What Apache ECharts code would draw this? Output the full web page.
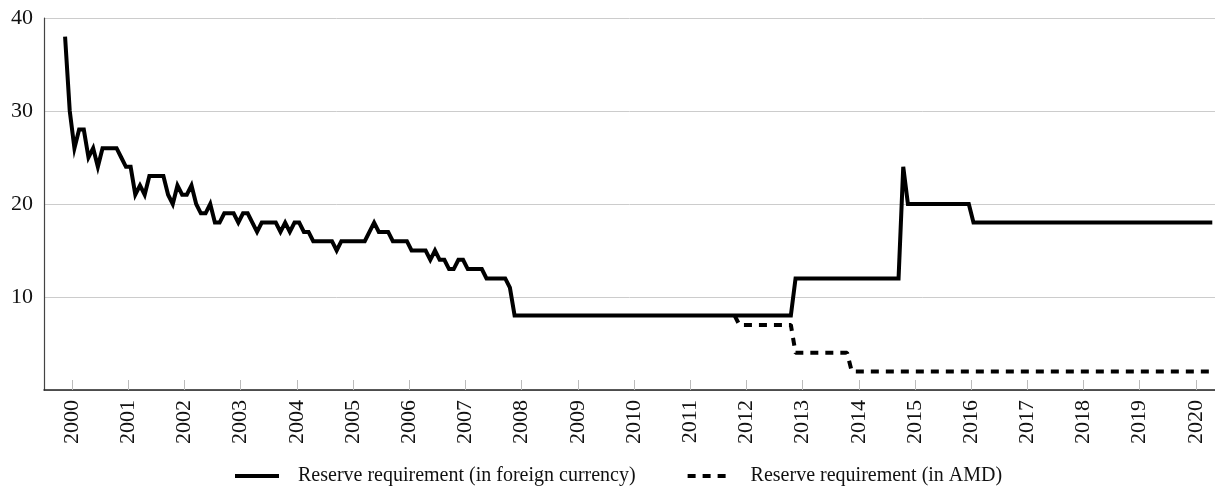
<!DOCTYPE html>
<html>
<head>
<meta charset="utf-8">
<script src="https://cdn.jsdelivr.net/npm/echarts@6/dist/echarts.min.js"></script>
<style>
  html, body { margin: 0; padding: 0; background: #fff; }
  #chart { width: 1215px; height: 492px; }
</style>
</head>
<body>
<div id="chart"></div>
<script>
// monthly observations, first one is Nov 1999 (mid-month, as decimal year)
const START = 1999.875;

// reserve requirement in foreign currency, %
const fxReserve = [
  38, 30, 26, 28, 28, 25, 26, 24, 26, 26,
  26, 26, 25, 24, 24, 21, 22, 21, 23, 23,
  23, 23, 21, 20, 22, 21, 21, 22, 20, 19,
  19, 20, 18, 18, 19, 19, 19, 18, 19, 19,
  18, 17, 18, 18, 18, 18, 17, 18, 17, 18,
  18, 17, 17, 16, 16, 16, 16, 16, 15, 16,
  16, 16, 16, 16, 16, 17, 18, 17, 17, 17,
  16, 16, 16, 16, 15, 15, 15, 15, 14, 15,
  14, 14, 13, 13, 14, 14, 13, 13, 13, 13,
  12, 12, 12, 12, 12, 11,
  8, 8, 8, 8, 8, 8, 8, 8, 8, 8, 8, 8,
  8, 8, 8, 8, 8, 8, 8, 8, 8, 8, 8, 8,
  8, 8, 8, 8, 8, 8, 8, 8, 8, 8, 8, 8,
  8, 8, 8, 8, 8, 8, 8, 8, 8, 8, 8, 8,
  8, 8, 8, 8, 8, 8, 8, 8, 8, 8, 8, 8,
  12, 12, 12, 12, 12, 12, 12, 12, 12, 12, 12, 12,
  12, 12, 12, 12, 12, 12, 12, 12, 12, 12, 12,
  24,
  20, 20, 20, 20, 20, 20, 20, 20, 20, 20, 20, 20, 20, 20,
  18, 18, 18, 18, 18, 18, 18, 18, 18, 18, 18, 18, 18,
  18, 18, 18, 18, 18, 18, 18, 18, 18, 18, 18, 18, 18,
  18, 18, 18, 18, 18, 18, 18, 18, 18, 18, 18, 18, 18,
  18, 18, 18, 18, 18, 18, 18, 18, 18, 18, 18, 18, 18
];

// reserve requirement in AMD, %, starts 143 months after START (Oct 2011)
const AMD_OFFSET = 143;
const amdReserve = [
  8,
  7, 7, 7, 7, 7, 7, 7, 7, 7, 7, 7, 7,
  4, 4, 4, 4, 4, 4, 4, 4, 4, 4, 4, 4,
  2, 2, 2, 2, 2, 2, 2, 2, 2, 2, 2, 2, 2,
  2, 2, 2, 2, 2, 2, 2, 2, 2, 2, 2, 2, 2,
  2, 2, 2, 2, 2, 2, 2, 2, 2, 2, 2, 2, 2,
  2, 2, 2, 2, 2, 2, 2, 2, 2, 2, 2, 2, 2,
  2, 2, 2, 2, 2, 2, 2, 2, 2, 2, 2, 2, 2,
  2, 2, 2, 2, 2, 2, 2, 2, 2, 2, 2, 2, 2
];

const years = [2000, 2001, 2002, 2003, 2004, 2005, 2006, 2007, 2008, 2009, 2010,
  2011, 2012, 2013, 2014, 2015, 2016, 2017, 2018, 2019, 2020];
const yTicks = [10, 20, 30, 40];

const FONT = 'Liberation Serif';

const chart = echarts.init(document.getElementById('chart'));

chart.setOption({
  animation: false,
  textStyle: { fontFamily: FONT, color: '#111' },
  grid: { left: 44, right: 0, top: 18, bottom: 102 },
  legend: {
    left: 228,
    top: 461,
    itemWidth: 44,
    itemHeight: 14,
    itemGap: 50,
    itemStyle: { opacity: 0 },
    lineStyle: { width: 4 },
    textStyle: { fontFamily: FONT, fontSize: 20, color: '#111', padding: [0, 0, 0, 14] },
    data: ['Reserve requirement (in foreign currency)', 'Reserve requirement (in AMD)']
  },
  xAxis: {
    type: 'value',
    min: 1999.5,
    max: 2020.34,
    axisLine: { lineStyle: { color: '#222', width: 1.5 } },
    axisTick: {
      inside: true,
      length: 10,
      customValues: years,
      lineStyle: { color: '#bbb' }
    },
    axisLabel: {
      customValues: years,
      rotate: 90,
      margin: 10,
      fontFamily: FONT,
      fontSize: 22,
      color: '#111',
      formatter: v => String(v)
    },
    splitLine: { show: false }
  },
  yAxis: {
    type: 'value',
    min: 0,
    max: 40,
    axisLine: { show: true, lineStyle: { color: '#444', width: 1.2 } },
    axisTick: { show: false },
    axisLabel: {
      customValues: yTicks,
      margin: 11,
      fontFamily: FONT,
      fontSize: 22,
      color: '#111'
    },
    splitLine: { lineStyle: { color: '#cccccc', width: 1 } }
  },
  series: [
    {
      name: 'Reserve requirement (in foreign currency)',
      type: 'line',
      symbol: 'none',
      z: 3,
      lineStyle: { color: '#000', width: 4, join: 'miter' },
      itemStyle: { color: '#000' },
      data: fxReserve.map((v, i) => [START + i / 12, v])
    },
    {
      name: 'Reserve requirement (in AMD)',
      type: 'line',
      symbol: 'none',
      z: 2,
      lineStyle: { color: '#000', width: 4, type: [8, 7] },
      itemStyle: { color: '#000' },
      data: amdReserve.map((v, i) => [START + (AMD_OFFSET + i) / 12, v])
    }
  ]
});
</script>
</body>
</html>
